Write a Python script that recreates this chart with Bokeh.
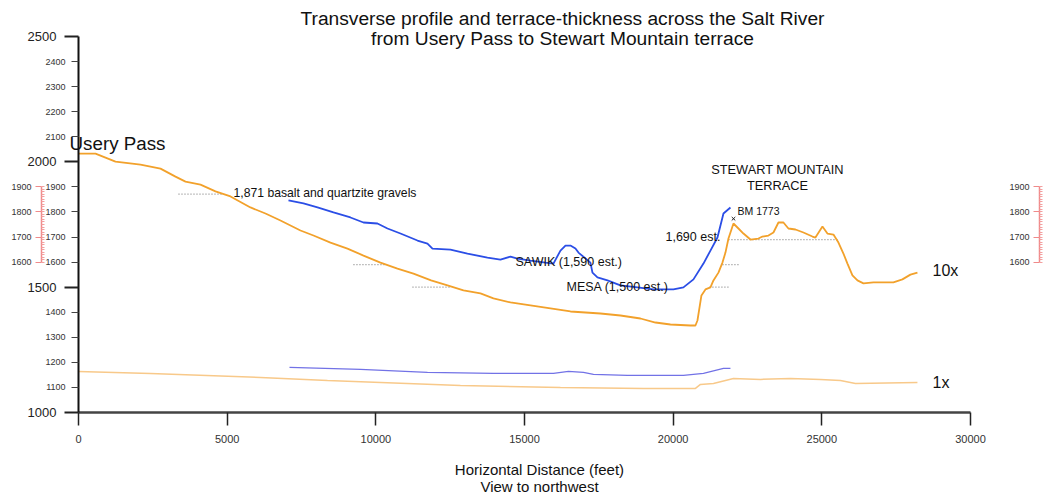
from bokeh.plotting import figure
from bokeh.models import Range1d, LinearAxis, FixedTicker
from bokeh.core.properties import value
from bokeh.embed import file_html
from bokeh.resources import INLINE

# ---------------- data ----------------
orange10_x = [0, 572, 908, 1244, 2085, 2758, 3262, 3598, 4103, 4607, 5112, 5784, 6289, 6793, 7466,
              7903, 8475, 9046, 9585, 10156, 10728, 11266, 11858, 12410, 12948, 13519, 13956, 14528,
              15201, 15873, 16546, 17555, 18227, 18900, 19405, 19909, 20582, 20750, 20817, 20951,
              21086, 21254, 21355, 21523, 21658, 21759, 21860, 22028, 22196, 22364, 22600, 22868,
              23003, 23205, 23373, 23541, 23709, 23877, 24113, 24382, 24685, 24785, 25021, 25189,
              25391, 25559, 25727, 25862, 26030, 26198, 26400, 26736, 27408, 27711, 27980, 28216]
orange10_y = [2033, 2033, 2017, 2001, 1989, 1973, 1941, 1921, 1909, 1882, 1862, 1818, 1794, 1766, 1726,
              1706, 1678, 1654, 1626, 1598, 1574, 1554, 1527, 1507, 1487, 1475, 1455, 1439,
              1427, 1415, 1403, 1395, 1387, 1375, 1359, 1351, 1347, 1347, 1367, 1467,
              1491, 1499, 1527, 1558, 1598, 1638, 1694, 1754, 1734, 1714, 1690, 1694,
              1702, 1706, 1718, 1758, 1758, 1734, 1730, 1718, 1702, 1698, 1742, 1714,
              1710, 1678, 1634, 1594, 1547, 1527, 1515, 1519, 1519, 1531, 1550, 1558]

blue10_x = [7062, 7567, 8038, 8576, 9147, 9585, 10055, 10392, 10829, 11401, 11737, 11905, 12510, 13082,
            13754, 14191, 14528, 14763, 15201, 15705, 15974, 16210, 16378, 16546, 16714, 16815, 17218,
            17286, 17454, 17790, 18227, 18799, 19337, 20010, 20346, 20683, 21019, 21254, 21490, 21692,
            21927]
blue10_y = [1846, 1834, 1818, 1798, 1778, 1758, 1754, 1734, 1714, 1686, 1674, 1654, 1650, 1634,
            1618, 1610, 1622, 1614, 1606, 1598, 1594, 1646, 1666, 1666, 1654, 1638, 1598,
            1558, 1539, 1527, 1507, 1499, 1491, 1491, 1499, 1531, 1594, 1646, 1698, 1794,
            1818]

blue1_x = [7096, 9484, 11737, 13956, 15974, 16479, 16983, 17320, 18463, 20346, 21019, 21692, 21927]
blue1_y = [1180, 1172, 1160, 1156, 1156, 1164, 1160, 1152, 1148, 1148, 1156, 1176, 1176]

orange1_x = [0, 2421, 6121, 8374, 12847, 16210, 19001, 20750, 20918, 21355, 22028, 22936, 23945,
             24954, 25626, 26131, 28216]
orange1_y = [1164, 1156, 1140, 1128, 1108, 1100, 1096, 1096, 1112, 1116, 1136, 1132, 1136,
             1132, 1128, 1116, 1120]

# dotted reference levels: (x_start, x_end, elevation)
level_x0 = [3363, 9248, 11233, 21860, 21658, 21220]
level_x1 = [4843, 10358, 12510, 25559, 22263, 21860]
level_y = [1871, 1590, 1500, 1690, 1590, 1500]

bm_x = [22030]
bm_y = [1773]

x_ticks = [0, 5000, 10000, 15000, 20000, 25000, 30000]
y_major_ticks = [1000, 1500, 2000, 2500]
y_minor_ticks = [1100, 1200, 1300, 1400, 1600, 1700, 1800, 1900, 2100, 2200, 2300, 2400]
scale_ticks = [1600, 1700, 1800, 1900]
scale_minor = list(range(1600, 1901, 10))

# ---------------- figure ----------------
W, H = 1049, 497
X0, X1 = -2623.3, 32657.5
Y0, Y1 = 660.9, 2643.6

p = figure(width=W, height=H, output_backend="svg", toolbar_location=None,
           x_range=Range1d(X0, X1), y_range=Range1d(Y0, Y1),
           x_axis_type=None, y_axis_type=None, min_border=0,
           outline_line_color=None, background_fill_color="white")

FONT = "Liberation Sans"

# x axis
xa = LinearAxis(fixed_location=1000, bounds=(0, 30000), ticker=FixedTicker(ticks=x_ticks, minor_ticks=[]),
                axis_line_color="#444444", axis_line_width=2.5,
                major_tick_line_color="#222222", major_tick_line_width=1.5,
                major_tick_out=13, major_tick_in=0, minor_tick_out=0, minor_tick_in=0,
                major_label_text_font=FONT, major_label_text_font_size="11px",
                major_label_text_color="#333333", major_label_standoff=10)
p.add_layout(xa, "below")

# y axis - major labels
ya = LinearAxis(fixed_location=0, bounds=(1000, 2500),
                ticker=FixedTicker(ticks=y_major_ticks, minor_ticks=[]),
                axis_line_color="#111111", axis_line_width=2,
                major_tick_line_color="#222222", major_tick_line_width=2,
                major_tick_out=14, major_tick_in=0, minor_tick_out=0, minor_tick_in=0,
                major_label_text_font=FONT, major_label_text_font_size="13px",
                major_label_text_color="#222222", major_label_standoff=8)
p.add_layout(ya, "left")

# y axis - minor labels
ya2 = LinearAxis(fixed_location=0, bounds=(1000, 2500),
                 ticker=FixedTicker(ticks=y_minor_ticks, minor_ticks=[]),
                 axis_line_color=None,
                 major_tick_line_color="#444444", major_tick_line_width=1,
                 major_tick_out=7, major_tick_in=0, minor_tick_out=0, minor_tick_in=0,
                 major_label_text_font=FONT, major_label_text_font_size="9px",
                 major_label_text_color="#333333", major_label_standoff=6)
p.add_layout(ya2, "left")

# red scale bars (10x vertical scale)
for loc in (-1244, 32321):
    sa = LinearAxis(fixed_location=loc, bounds=(1600, 1900),
                    ticker=FixedTicker(ticks=scale_ticks, minor_ticks=scale_minor),
                    axis_line_color="#f08a8a", axis_line_width=1.5,
                    major_tick_line_color="#f08a8a", major_tick_out=6, major_tick_in=0,
                    minor_tick_line_color="#f3a0a0", minor_tick_out=0, minor_tick_in=3,
                    major_label_text_font=FONT, major_label_text_font_size="9px",
                    major_label_text_color="#333333", major_label_standoff=4)
    p.add_layout(sa, "left")

# dotted levels
p.segment(x0=level_x0, x1=level_x1, y0=level_y, y1=level_y,
          line_color="#888888", line_width=1.2, line_dash="1 2")

# profiles
p.line(orange1_x, orange1_y, line_color="#f8c98a", line_width=1.5)
p.line(blue1_x, blue1_y, line_color="#7272e6", line_width=1.2)
p.line(orange10_x, orange10_y, line_color="#f2a12b", line_width=1.8)
p.line(blue10_x, blue10_y, line_color="#2b4ee6", line_width=1.8)

p.scatter(bm_x, bm_y, marker="x", size=5, line_color="#222222", line_width=1)

# ---------------- text ----------------
def px2x(px):
    return (px - 78) / 892 * 30000

def py2y(py):
    return 1000 + (412 - py) * 1500 / 376

def txt(px, py, s, size, align="left", font=FONT, color="#111111"):
    p.text(x=[px2x(px)], y=[py2y(py)], text=[s], text_font=value(font),
           text_font_size=size, text_align=align, text_baseline="middle", text_color=color)

txt(562, 18, "Transverse profile and terrace-thickness across the Salt River", "19.2px", "center")
txt(562, 38, "from Usery Pass to Stewart Mountain terrace", "19.2px", "center")
txt(69, 143, "Usery Pass", "18.8px")
txt(233, 193, "1,871 basalt and quartzite gravels", "12.2px")
txt(515, 262, "SAWIK (1,590 est.)", "12.5px")
txt(566, 287, "MESA (1,500 est.)", "12.5px")
txt(665, 237, "1,690 est.", "12.5px")
txt(737, 211, "BM 1773", "10.5px")
txt(777, 169, "STEWART MOUNTAIN", "12.8px", "center")
txt(777, 185, "TERRACE", "12.8px", "center")
txt(932, 270, "10x", "16px")
txt(932, 382, "1x", "16px")
txt(539, 469, "Horizontal Distance (feet)", "15px", "center")
txt(539, 486, "View to northwest", "15px", "center")

open("out.html", "w").write(file_html(p, INLINE))
